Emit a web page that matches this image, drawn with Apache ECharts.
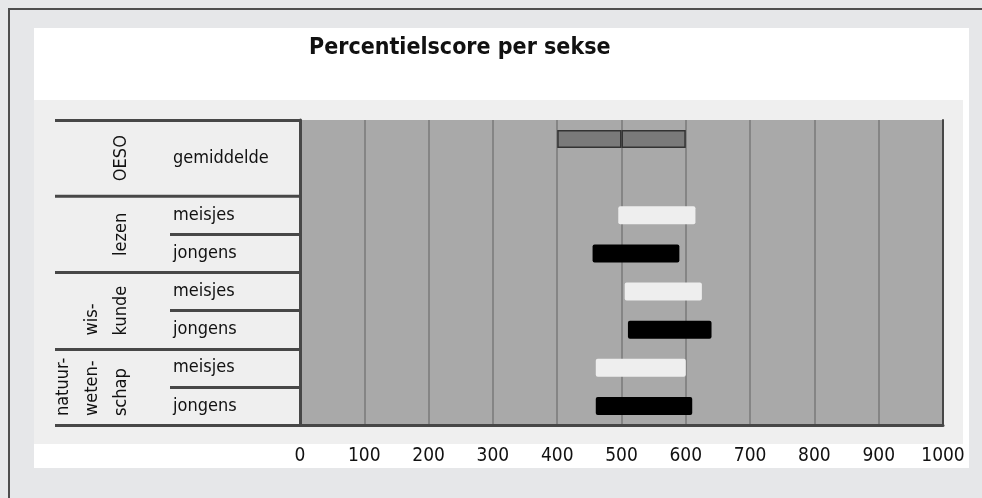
<!DOCTYPE html>
<html>
<head>
<meta charset="utf-8">
<script src="https://cdn.jsdelivr.net/npm/echarts@6/dist/echarts.min.js"></script>
<style>
  html, body { margin: 0; padding: 0; background: #e6e7e9; }
  #chart { width: 982px; height: 498px; }
</style>
</head>
<body>
<div id="chart"></div>
<script>
// data
const chartTitle = 'Percentielscore per sekse';
const rows = ['gemiddelde', '', 'meisjes', 'jongens', 'meisjes', 'jongens', 'meisjes', 'jongens'];
const groups = ['OESO', 'lezen', 'wis-\nkunde', 'natuur-\nweten-\nschap'];
const groupFirstRow = [0, 2, 4, 6];
const groupLastRow = [1, 3, 5, 7];
const lows = [400, null, 495, 455, 505, 510, 460, 460];
const highs = [600, null, 615, 590, 625, 640, 600, 610];
const oesoMean = 500;
const xMin = 0, xMax = 1000, xStep = 100;

const FONT = "'DejaVu Sans Condensed', 'Liberation Sans Narrow', sans-serif";
const LINE = '#474747';
const LABEL_SIZE = 18;

const chart = echarts.init(document.getElementById('chart'));

function colorFor(r) {
  if (r === 'gemiddelde') return '#7a7a7a';
  if (r === 'meisjes') return '#eeeeee';
  return '#000000';
}

function item(v, r) {
  const st = { color: colorFor(r), borderRadius: 2 };
  if (r === 'gemiddelde') { st.borderColor = '#333333'; st.borderWidth = 1.5; st.borderRadius = 0; }
  return { value: v, itemStyle: st };
}

const baseData = lows.map(v => v == null ? '-' : v);
const firstData = rows.map((r, i) => lows[i] == null ? '-' :
  item(r === 'gemiddelde' ? oesoMean - lows[i] : highs[i] - lows[i], r));
const secondData = rows.map((r, i) => r === 'gemiddelde' ? item(highs[i] - oesoMean, r) : '-');

chart.setOption({
  animation: false,
  title: {
    text: chartTitle, left: 304, top: 32,
    textStyle: { fontSize: 23, fontWeight: 'bold', fontFamily: FONT, color: '#111' }
  },
  grid: { left: 300, right: 39, top: 120, bottom: 73, show: true,
    backgroundColor: '#a9a9a9', borderWidth: 0 },
  xAxis: {
    type: 'value', min: xMin, max: xMax, interval: xStep,
    axisLine: { show: true, lineStyle: { color: LINE, width: 3 } },
    axisTick: { show: false },
    splitLine: { lineStyle: { color: '#858585', width: 2 } },
    axisLabel: { color: '#111', fontSize: 19, fontFamily: FONT, margin: 22,
      formatter: v => String(v) }
  },
  yAxis: [{
    type: 'category', data: rows, inverse: true, position: 'left',
    axisLine: { show: true, lineStyle: { color: LINE, width: 3 } },
    axisTick: { show: true, length: 245, interval: i => groupFirstRow.includes(i),
      lineStyle: { color: LINE, width: 3 } },
    axisLabel: {
      interval: 0, align: 'left', margin: 127, color: '#111',
      fontSize: LABEL_SIZE, fontFamily: FONT,
      formatter: (v, i) => i === 0 ? '{g|' + v + '}' : v,
      rich: { g: { padding: [38, 0, 0, 0], fontSize: LABEL_SIZE, fontFamily: FONT, color: '#111' } }
    }
  }, {
    type: 'category', data: rows, inverse: true, position: 'left',
    axisLine: { show: false },
    axisTick: { show: true, length: 130, interval: i => rows[i] === 'jongens',
      lineStyle: { color: LINE, width: 3 } },
    axisLabel: { show: false }
  }, {
    type: 'category', data: rows, inverse: true, position: 'right',
    axisLine: { show: true, lineStyle: { color: LINE, width: 2 } },
    axisTick: { show: false },
    axisLabel: { show: false }
  }],
  series: [
    { type: 'bar', stack: 'r', data: baseData, barWidth: 18,
      itemStyle: { color: 'transparent' }, silent: true },
    { type: 'bar', stack: 'r', data: firstData, barWidth: 18 },
    { type: 'bar', stack: 'r', data: secondData, barWidth: 18 }
  ]
});

// frame and rotated group labels, placed with the category scale
const ctx = document.createElement('canvas').getContext('2d');
ctx.font = LABEL_SIZE + 'px ' + FONT;
const groupTexts = groups.map((g, k) => {
  const y0 = chart.convertToPixel({ yAxisIndex: 0 }, groupFirstRow[k]);
  const y1 = chart.convertToPixel({ yAxisIndex: 0 }, groupLastRow[k]);
  const w = Math.max(...g.split('\n').map(s => ctx.measureText(s).width));
  return {
    type: 'text', x: 136, y: (y0 + y1) / 2 + w / 2, rotation: Math.PI / 2, z: 10,
    style: { text: g, fill: '#111', fontSize: LABEL_SIZE, fontFamily: FONT, lineHeight: 29,
      align: 'left', verticalAlign: 'bottom', textAlign: 'left', textVerticalAlign: 'bottom' }
  };
});

chart.setOption({
  graphic: [
    { type: 'rect', z: -100, shape: { x: 34, y: 28, width: 935, height: 440 }, style: { fill: '#ffffff' } },
    { type: 'rect', z: -99, shape: { x: 34, y: 100, width: 929, height: 344 }, style: { fill: '#efefef' } },
    { type: 'line', z: -98, shape: { x1: 8, y1: 9, x2: 982, y2: 9 }, style: { stroke: '#4d4d4d', lineWidth: 2 } },
    { type: 'line', z: -98, shape: { x1: 9, y1: 9, x2: 9, y2: 498 }, style: { stroke: '#4d4d4d', lineWidth: 2 } }
  ].concat(groupTexts)
});
</script>
</body>
</html>
